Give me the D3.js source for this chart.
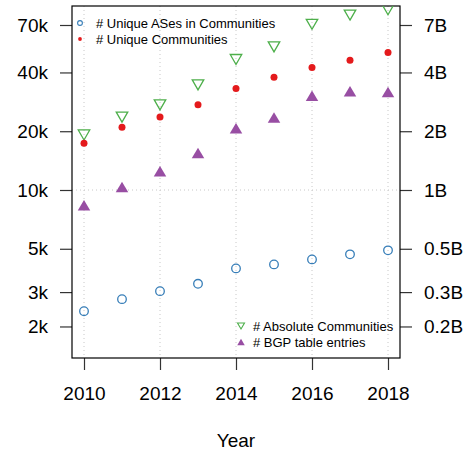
<!DOCTYPE html>
<html>
<head>
<meta charset="utf-8">
<script src="https://cdn.jsdelivr.net/npm/d3@7"></script>
<style>
  body { margin: 0; background: #fff; }
  text { font-family: "Liberation Sans", Arial, sans-serif; }
</style>
</head>
<body>
<div id="chart"></div>
<script>
const years = [2010, 2011, 2012, 2013, 2014, 2015, 2016, 2017, 2018];
const uniqueASes = [2395, 2760, 3034, 3308, 3967, 4159, 4412, 4681, 4908];
const uniqueCommunities = [17360, 20970, 23680, 27290, 33070, 37840, 42380, 46250, 50600];
const absoluteCommunities = [19140, 23600, 27290, 34550, 46600, 54100, 70600, 78700, 83800];
const bgpEntries = [0.835e9, 1.036e9, 1.247e9, 1.548e9, 2.072e9, 2.349e9, 3.041e9, 3.207e9, 3.18e9];

const leftTicks = [2000, 3000, 5000, 10000, 20000, 40000, 70000];
const leftLabels = ["2k", "3k", "5k", "10k", "20k", "40k", "70k"];
const rightTicks = [0.2e9, 0.3e9, 0.5e9, 1e9, 2e9, 4e9, 7e9];
const rightLabels = ["0.2B", "0.3B", "0.5B", "1B", "2B", "4B", "7B"];
const xTicks = [2010, 2012, 2014, 2016, 2018];

const width = 469, height = 450;
const box = {left: 72, right: 400, top: 6, bottom: 358};

const svg = d3.select("#chart").append("svg")
  .attr("width", width).attr("height", height);

const x = d3.scaleLinear().domain([2010, 2018]).range([84, 388]);
const y = d3.scaleLog().domain([10000, 70000]).range([190, 25]);
const yR = d3.scaleLog().domain([1e9, 7e9]).range([190, 25]);

svg.append("defs").append("clipPath").attr("id", "clip")
  .append("rect")
  .attr("x", box.left).attr("y", box.top)
  .attr("width", box.right - box.left).attr("height", box.bottom - box.top);

// grid
const grid = svg.append("g")
  .attr("stroke", "#c8c8c8")
  .attr("stroke-dasharray", "1,3")
  .attr("stroke-width", 1);
grid.selectAll("line.v").data(xTicks).join("line")
  .attr("x1", d => x(d)).attr("x2", d => x(d))
  .attr("y1", box.top).attr("y2", box.bottom);
grid.append("line")
  .attr("x1", box.left).attr("x2", box.right)
  .attr("y1", y(10000)).attr("y2", y(10000));

// axes
const axB = svg.append("g").attr("transform", `translate(0,${box.bottom})`)
  .call(d3.axisBottom(x).tickValues(xTicks).tickFormat(d3.format("d")).tickSize(12).tickPadding(17));
const axL = svg.append("g").attr("transform", `translate(${box.left},0)`)
  .call(d3.axisLeft(y).tickValues(leftTicks).tickFormat((d, i) => leftLabels[i]).tickSize(12).tickPadding(12));
const axR = svg.append("g").attr("transform", `translate(${box.right},0)`)
  .call(d3.axisRight(yR).tickValues(rightTicks).tickFormat((d, i) => rightLabels[i]).tickSize(12).tickPadding(12));
[axB, axL, axR].forEach(a => {
  a.select(".domain").remove();
  a.selectAll(".tick line").attr("stroke", "#333").attr("stroke-width", 1.2);
  a.selectAll(".tick text").attr("font-size", 19).attr("fill", "#000")
    .style("font-family", "'Liberation Sans', Arial, sans-serif");
});

svg.append("rect")
  .attr("x", box.left).attr("y", box.top)
  .attr("width", box.right - box.left).attr("height", box.bottom - box.top)
  .attr("fill", "none").attr("stroke", "#000").attr("stroke-width", 1.2);

svg.append("text")
  .attr("x", (box.left + box.right) / 2).attr("y", 447)
  .attr("text-anchor", "middle").attr("font-size", 19)
  .text("Year");

// triangle centred on its bounding box, like R's pch 2 / 6 / 17
const tri = (w, h, down) => {
  const s = down ? -1 : 1;
  return `M0,${-s * h / 2}L${w / 2},${s * h / 2}L${-w / 2},${s * h / 2}Z`;
};
const colors = {blue: "#377EB8", red: "#E41A1C", green: "#4DAF4A", purple: "#984EA3"};

const plot = svg.append("g").attr("clip-path", "url(#clip)");

plot.selectAll("circle.as").data(years).join("circle")
  .attr("cx", d => x(d)).attr("cy", (d, i) => y(uniqueASes[i]))
  .attr("r", 4.3).attr("fill", "none").attr("stroke", colors.blue).attr("stroke-width", 1.3);

plot.selectAll("path.abs").data(years).join("path")
  .attr("d", tri(11.5, 10, true))
  .attr("transform", (d, i) => `translate(${x(d)},${y(absoluteCommunities[i])})`)
  .attr("fill", "none").attr("stroke", colors.green).attr("stroke-width", 1.3)
  .attr("stroke-linejoin", "miter");

plot.selectAll("circle.uc").data(years).join("circle")
  .attr("cx", d => x(d)).attr("cy", (d, i) => y(uniqueCommunities[i]))
  .attr("r", 3.5).attr("fill", colors.red);

plot.selectAll("path.bgp").data(years).join("path")
  .attr("d", tri(12.5, 10.5, false))
  .attr("transform", (d, i) => `translate(${x(d)},${yR(bgpEntries[i])})`)
  .attr("fill", colors.purple);

// legends
const legTop = svg.append("g");
legTop.append("circle").attr("cx", 80).attr("cy", 23).attr("r", 2.4)
  .attr("fill", "none").attr("stroke", colors.blue).attr("stroke-width", 1.1);
legTop.append("circle").attr("cx", 80).attr("cy", 39).attr("r", 1.9)
  .attr("fill", colors.red);
legTop.selectAll("text").data(["# Unique ASes in Communities", "# Unique Communities"]).join("text")
  .attr("x", 96).attr("y", (d, i) => 23 + 16 * i).attr("dy", "0.35em")
  .attr("font-size", 13).text(d => d);

const legBot = svg.append("g");
legBot.append("path").attr("d", tri(7, 6, true))
  .attr("transform", "translate(241,326)")
  .attr("fill", "none").attr("stroke", colors.green).attr("stroke-width", 1.1);
legBot.append("path").attr("d", tri(7.5, 6.5, false))
  .attr("transform", "translate(241,342)")
  .attr("fill", colors.purple);
legBot.selectAll("text").data(["# Absolute Communities", "# BGP table entries"]).join("text")
  .attr("x", 253).attr("y", (d, i) => 326 + 16 * i).attr("dy", "0.35em")
  .attr("font-size", 13).text(d => d);
</script>
</body>
</html>
